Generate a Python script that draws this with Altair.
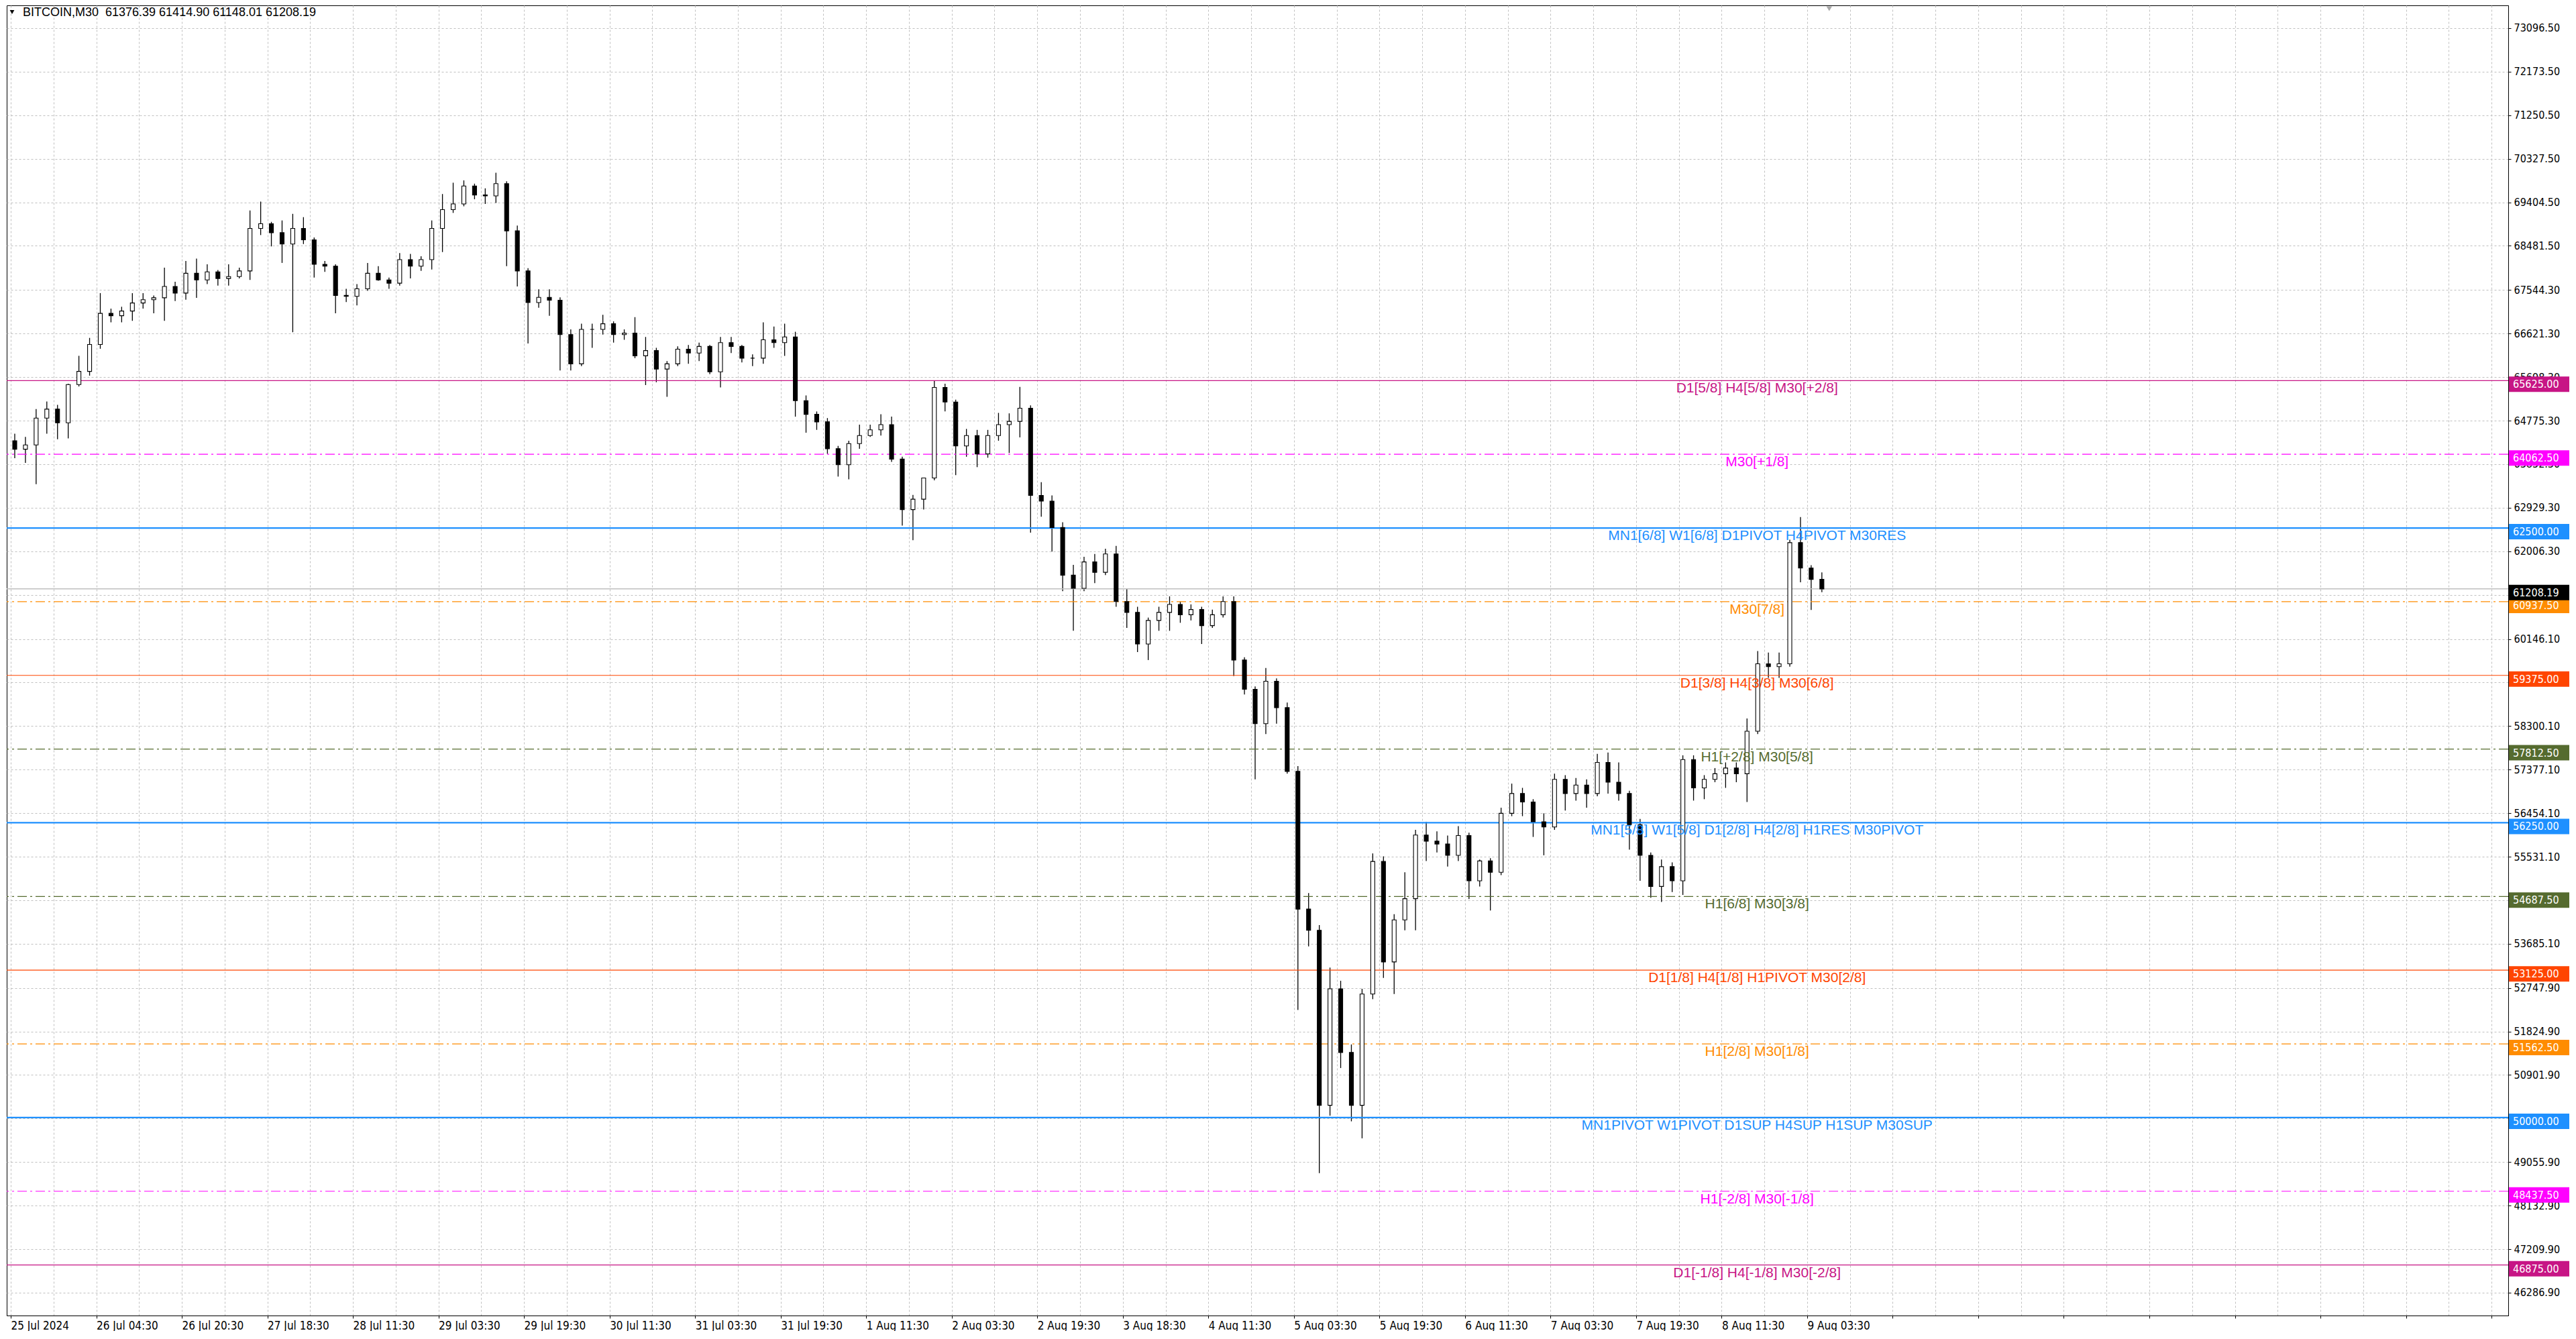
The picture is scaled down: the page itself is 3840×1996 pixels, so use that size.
import json
import pandas as pd
import altair as alt

opens = [64350, 64170, 64260, 64830, 65020, 64730, 65540, 65820, 66390, 67050,
         67000, 67100, 67270, 67340, 67380, 67620, 67480, 67900, 67760, 67930,
         67790, 67830, 67950, 68850, 68950, 68760, 68520, 68850, 68610, 68090,
         68050, 67430, 67410, 67570, 67900, 67760, 67690, 68190, 68050, 68190,
         68850, 69250, 69370, 69750, 69560, 69540, 69800, 68800, 67950, 67280,
         67390, 67330, 66600, 65980, 66710, 66710, 66830, 66600, 66630, 66150,
         66260, 65870, 65980, 66290, 66210, 66350, 65810, 66430, 66350, 66100,
         66100, 66490, 66430, 66550, 65200, 64910, 64750, 64180, 63840, 64290,
         64460, 64580, 64690, 63960, 62890, 63110, 63560, 65480, 65170, 64240,
         64460, 64070, 64460, 64690, 64760, 65040, 63190, 63070, 62510, 61500,
         61220, 61780, 61560, 61950, 60940, 60710, 60040, 60540, 60710, 60880,
         60660, 60770, 60430, 60660, 60940, 59700, 59080, 58350, 59250, 58690,
         57340, 54420, 53970, 50260, 52730, 51380, 50260, 52620, 55430, 53300,
         54190, 54640, 55990, 55860, 55800, 55560, 55980, 55020, 55440, 55200,
         56450, 56870, 56690, 56270, 56160, 57170, 56870, 57050, 56870, 57530,
         57110, 56870, 56210, 55560, 54900, 55320, 55020, 57590, 56990, 57170,
         57290, 57410, 57290, 58190, 59620, 59560, 59620, 62190, 61650, 61410]
highs = [64500, 64430, 65020, 65180, 65110, 65560, 66150, 66530, 67480, 67150,
         67190, 67480, 67480, 67430, 68020, 67720, 68160, 68210, 68090, 67970,
         68090, 68020, 69230, 69420, 68990, 69020, 69160, 69090, 68660, 68160,
         68090, 67570, 67670, 68120, 68050, 67810, 68330, 68310, 68260, 69020,
         69580, 69820, 69870, 69800, 69700, 70030, 69850, 68910, 68010, 67560,
         67560, 67390, 66710, 66830, 66830, 67020, 66880, 66710, 66970, 66550,
         66320, 66040, 66350, 66380, 66430, 66380, 66550, 66550, 66380, 66180,
         66860, 66770, 66830, 66660, 65310, 64970, 64830, 64240, 64350, 64690,
         64690, 64910, 64860, 64010, 63200, 63560, 65620, 65560, 65220, 64600,
         64580, 64580, 64940, 64930, 65490, 65100, 63470, 63190, 62620, 61720,
         61890, 61950, 62060, 62120, 61220, 60830, 60600, 60830, 61050, 60940,
         60880, 60830, 60770, 61050, 61050, 59760, 59140, 59530, 59310, 58800,
         57450, 54760, 54080, 53180, 52900, 51550, 52730, 55600, 55540, 54310,
         55200, 56100, 56270, 56070, 55980, 56180, 56040, 55470, 55500, 56570,
         57080, 56990, 56750, 56450, 57290, 57260, 57200, 57170, 57710, 57740,
         57530, 56930, 56330, 55620, 55470, 55410, 57680, 57680, 57260, 57410,
         57530, 57530, 58460, 59890, 59860, 59860, 62250, 62730, 61710, 61560]
lows = [63980, 63880, 63430, 64500, 64380, 64400, 65500, 65730, 66300, 66860,
        66860, 66890, 67150, 67050, 66890, 67310, 67340, 67380, 67670, 67640,
        67640, 67790, 67760, 68710, 68470, 68120, 66650, 68520, 67810, 67930,
        67050, 67290, 67220, 67530, 67740, 67570, 67640, 67790, 67950, 67980,
        68350, 69180, 69320, 69470, 69370, 69390, 68050, 67620, 66410, 67170,
        67000, 65840, 65840, 65930, 66320, 66600, 66430, 66490, 66100, 65530,
        65590, 65280, 65930, 65980, 66040, 65760, 65480, 66210, 66010, 65930,
        65980, 66320, 66150, 64860, 64520, 64580, 64070, 63590, 63530, 64180,
        64430, 64460, 63900, 62550, 62240, 62890, 63510, 64970, 63620, 64010,
        63790, 63990, 64350, 64090, 64420, 62400, 62740, 62000, 61160, 60320,
        61160, 61330, 61500, 60830, 60380, 59870, 59700, 60320, 60320, 60490,
        60540, 60040, 60380, 60600, 59360, 58970, 57170, 58130, 58350, 57290,
        52280, 53630, 48820, 50040, 51050, 49920, 49560, 52510, 52960, 52620,
        53970, 53970, 55440, 55620, 55320, 55440, 54630, 54900, 54390, 55140,
        56390, 56390, 55950, 55560, 56100, 56510, 56720, 56570, 56810, 56870,
        56720, 55680, 55020, 54660, 54570, 54780, 54720, 56720, 56750, 57110,
        56990, 57110, 56690, 58130, 59320, 59320, 59560, 61350, 60760, 61140]
closes = [64170, 64260, 64830, 65020, 64730, 65540, 65820, 66390, 67050, 67000,
          67100, 67270, 67340, 67380, 67620, 67480, 67900, 67760, 67930, 67790,
          67830, 67950, 68850, 68950, 68760, 68520, 68850, 68610, 68090, 68050,
          67430, 67410, 67570, 67900, 67760, 67690, 68190, 68050, 68190, 68850,
          69250, 69370, 69750, 69560, 69540, 69800, 68800, 67950, 67280, 67390,
          67330, 66600, 65980, 66710, 66710, 66830, 66600, 66630, 66150, 66260,
          65870, 65980, 66290, 66210, 66350, 65810, 66430, 66350, 66100, 66100,
          66490, 66430, 66550, 65200, 64910, 64750, 64180, 63840, 64290, 64460,
          64580, 64690, 63960, 62890, 63110, 63560, 65480, 65170, 64240, 64460,
          64070, 64460, 64690, 64760, 65040, 63190, 63070, 62510, 61500, 61220,
          61780, 61560, 61950, 60940, 60710, 60040, 60540, 60710, 60880, 60660,
          60770, 60430, 60660, 60940, 59700, 59080, 58350, 59250, 58690, 57340,
          54420, 53970, 50260, 52730, 51380, 50260, 52620, 55430, 53300, 54190,
          54640, 55990, 55860, 55800, 55560, 55980, 55020, 55440, 55200, 56450,
          56870, 56690, 56270, 56160, 57170, 56870, 57050, 56870, 57530, 57110,
          56870, 56210, 55560, 54900, 55320, 55020, 57590, 56990, 57170, 57290,
          57410, 57290, 58190, 59620, 59560, 59620, 62190, 61650, 61410, 61208.19]

symbol = "BITCOIN,M30"
last_bar = [61376.39, 61414.90, 61148.01, 61208.19]

price_ticks = [73096.50, 72173.50, 71250.50, 70327.50, 69404.50, 68481.50, 67544.30,
               66621.30, 65698.30, 64775.30, 63852.30, 62929.30, 62006.30, 61083.10,
               60146.10, 59223.10, 58300.10, 57377.10, 56454.10, 55531.10, 54608.10,
               53685.10, 52747.90, 51824.90, 50901.90, 49978.90, 49055.90, 48132.90,
               47209.90, 46286.90]
date_labels = ["25 Jul 2024", "26 Jul 04:30", "26 Jul 20:30", "27 Jul 18:30", "28 Jul 11:30",
               "29 Jul 03:30", "29 Jul 19:30", "30 Jul 11:30", "31 Jul 03:30", "31 Jul 19:30",
               "1 Aug 11:30", "2 Aug 03:30", "2 Aug 19:30", "3 Aug 18:30", "4 Aug 11:30",
               "5 Aug 03:30", "5 Aug 19:30", "6 Aug 11:30", "7 Aug 03:30", "7 Aug 19:30",
               "8 Aug 11:30", "9 Aug 03:30"]

# Murrey math levels drawn by the indicator
level_prices = [65625.0, 64062.5, 62500.0, 60937.5, 59375.0, 57812.5, 56250.0,
                54687.5, 53125.0, 51562.5, 50000.0, 48437.5, 46875.0]
level_names = ["D1[5/8] H4[5/8] M30[+2/8]",
               "M30[+1/8]",
               "MN1[6/8] W1[6/8] D1PIVOT H4PIVOT M30RES",
               "M30[7/8]",
               "D1[3/8] H4[3/8] M30[6/8]",
               "H1[+2/8] M30[5/8]",
               "MN1[5/8] W1[5/8] D1[2/8] H4[2/8] H1RES M30PIVOT",
               "H1[6/8] M30[3/8]",
               "D1[1/8] H4[1/8] H1PIVOT M30[2/8]",
               "H1[2/8] M30[1/8]",
               "MN1PIVOT W1PIVOT D1SUP H4SUP H1SUP M30SUP",
               "H1[-2/8] M30[-1/8]",
               "D1[-1/8] H4[-1/8] M30[-2/8]"]

# line styles per level (colour, dash, width)
VIOLET, MAGENTA, BLUE = "#C71585", "#FF00FF", "#1E90FF"
ORANGE, RED, OLIVE = "#FF8C00", "#FF4500", "#556B2F"
level_style = {
    65625.0: (VIOLET, "solid", 1.2), 64062.5: (MAGENTA, "dashdot", 1.2),
    62500.0: (BLUE, "solid", 2.2), 60937.5: (ORANGE, "dashdot", 1.2),
    59375.0: (RED, "solid", 1.2), 57812.5: (OLIVE, "dashdot", 1.2),
    56250.0: (BLUE, "solid", 2.2), 54687.5: (OLIVE, "dashdot", 1.2),
    53125.0: (RED, "solid", 1.2), 51562.5: (ORANGE, "dashdot", 1.2),
    50000.0: (BLUE, "solid", 2.2), 48437.5: (MAGENTA, "dashdot", 1.2),
    46875.0: (VIOLET, "solid", 1.2),
}

W, H = 3729, 1953
BARS_PER_CANDLE = 4
LAST_BAR_SLOT = 933
AX_FONT = "DejaVu Sans Condensed, DejaVu Sans"

candles = pd.DataFrame({"o": opens, "h": highs, "l": lows, "c": closes})
candles["x"] = candles.index * BARS_PER_CANDLE + 1.5

levels = pd.DataFrame({"price": level_prices, "name": level_names})
levels["color"] = [level_style[p][0] for p in level_prices]
levels["dash"] = [level_style[p][1] for p in level_prices]
levels["w"] = [level_style[p][2] for p in level_prices]
levels["label"] = levels["price"].map(lambda v: f"{v:.2f}")

bid = pd.DataFrame({"price": [closes[-1]], "label": [f"{closes[-1]:.2f}"]})

grid_bars = list(range(0, LAST_BAR_SLOT, 16))
label_expr = (f"datum.value % 32 == 0 && datum.value / 32 < {len(date_labels)} ? "
              f"{json.dumps(date_labels)}[datum.value / 32] : ''")

xscale = alt.Scale(domain=[-0.25, LAST_BAR_SLOT], nice=False, zero=False)
yscale = alt.Scale(domain=[45803, 73580], nice=False, zero=False)

x_axis = alt.Axis(values=grid_bars, labelExpr=label_expr, labelAlign="left",
                  labelFont=AX_FONT, labelFontSize=17, labelColor="black",
                  labelPadding=3, labelOverlap=False, labelFlush=False,
                  tickSize=4, tickColor="black",
                  tickOpacity={"condition": {"test": "datum.value % 32 == 0", "value": 1}, "value": 0},
                  domainColor="black", grid=True, gridColor="#C0C0C0", gridDash=[3, 3])
y_axis = alt.Axis(orient="right", values=price_ticks, format=".2f",
                  labelFont=AX_FONT, labelFontSize=16, labelColor="black",
                  labelPadding=4, labelOverlap=False, labelFlush=False,
                  tickSize=4, tickColor="black", domainColor="black",
                  grid=True, gridColor="#C0C0C0", gridDash=[3, 3])

wicks = alt.Chart(candles).mark_rule(color="black", strokeWidth=1.3).encode(
    x=alt.X("x:Q", scale=xscale, axis=x_axis, title=None),
    y=alt.Y("l:Q", scale=yscale, axis=y_axis, title=None),
    y2="h:Q",
)
bodies = alt.Chart(candles).mark_bar(size=6, stroke="black", strokeWidth=1.1).encode(
    x=alt.X("x:Q", title=None),
    y=alt.Y("o:Q", title=None),
    y2="c:Q",
    fill=alt.condition("datum.c >= datum.o", alt.value("white"), alt.value("black")),
)

bid_line = alt.Chart(bid).mark_rule(color="#C0C0C0", strokeWidth=1.5).encode(
    y=alt.Y("price:Q", title=None))

level_lines = alt.Chart(levels).mark_rule().encode(
    y=alt.Y("price:Q", title=None),
    color=alt.Color("color:N", scale=None),
    strokeDash=alt.StrokeDash("dash:N", scale=alt.Scale(domain=["solid", "dashdot"],
                                                         range=[[1, 0], [14, 5, 3, 5]]),
                              legend=None),
    strokeWidth=alt.StrokeWidth("w:Q", scale=None),
)
level_text = alt.Chart(levels).mark_text(
    align="center", baseline="middle", dy=12, font="Liberation Sans", fontSize=21
).encode(
    x=alt.datum(653.25),
    y=alt.Y("price:Q", title=None),
    text="name:N",
    color=alt.Color("color:N", scale=None),
)

level_box = alt.Chart(levels).mark_rect(yOffset=-6, y2Offset=17).encode(
    x=alt.value(W + 1), x2=alt.value(W + 91),
    y=alt.Y("price:Q", title=None), y2="price:Q",
    color=alt.Color("color:N", scale=None),
)
level_box_text = alt.Chart(levels).mark_text(
    align="left", baseline="middle", dy=6, font=AX_FONT, fontSize=16, color="white"
).encode(x=alt.value(W + 7), y=alt.Y("price:Q", title=None), text="label:N")

bid_box = alt.Chart(bid).mark_rect(yOffset=-6, y2Offset=17, color="black").encode(
    x=alt.value(W + 1), x2=alt.value(W + 91),
    y=alt.Y("price:Q", title=None), y2="price:Q")
bid_text = alt.Chart(bid).mark_text(
    align="left", baseline="middle", dy=6, font=AX_FONT, fontSize=16, color="white"
).encode(x=alt.value(W + 7), y=alt.Y("price:Q", title=None), text="label:N")

header = pd.DataFrame({"t": [symbol + "\u00a0 " + " ".join(f"{v:.2f}" for v in last_bar)]})
header_text = alt.Chart(header).mark_text(
    align="left", baseline="middle", font="Liberation Sans", fontSize=18, color="black"
).encode(x=alt.value(24), y=alt.value(11), text="t:N")
header_arrow = alt.Chart(header).mark_point(
    shape="triangle-down", filled=True, color="black", size=45, opacity=1
).encode(x=alt.value(8), y=alt.value(10))
# chart-shift marker at the top edge, kept inside the plot so it adds no padding
shift_mark = alt.Chart(header).mark_point(
    shape="triangle-down", filled=True, color="#A8A8A8", size=70, opacity=1
).encode(x=alt.datum(680.25), y=alt.value(5))

chart = alt.layer(
    wicks, bid_line, level_lines, bodies, level_text,
    level_box, level_box_text, bid_box, bid_text,
    header_arrow, header_text, shift_mark,
).properties(
    width=W, height=H, padding={"left": 0, "top": 0, "right": 0, "bottom": 0},
    background="white",
).configure_view(stroke="black", strokeWidth=1)

chart.save("out.html", embed_options={"renderer": "svg", "actions": False})
